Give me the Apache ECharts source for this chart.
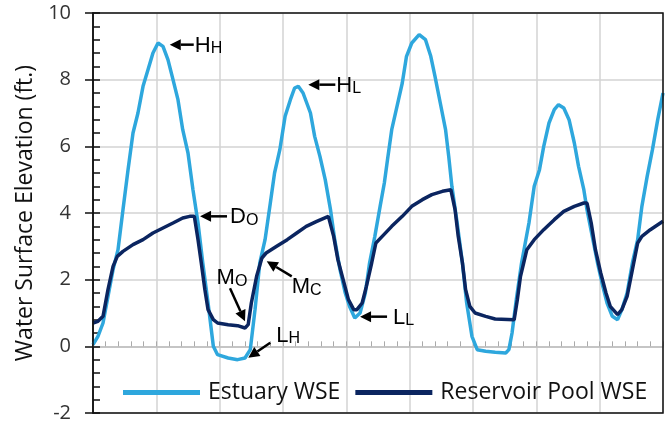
<!DOCTYPE html>
<html>
<head>
<meta charset="utf-8">
<script src="https://cdn.jsdelivr.net/npm/echarts@6/dist/echarts.min.js"></script>
<style>
html,body{margin:0;padding:0;background:#fff;}
#chart{width:668px;height:423px;}
</style>
</head>
<body>
<div id="chart"></div>
<script>
// ---- data (hours, ft) ----
const estuaryHours = [0.0,0.47,0.95,1.42,1.9,2.37,2.84,3.32,3.79,4.26,4.74,5.21,5.68,6.16,6.63,7.1,7.58,8.05,8.5,9.0,9.47,9.95,10.4,10.9,11.4,11.8,12.8,13.7,14.4,14.9,15.35,15.8,16.3,16.8,17.2,17.7,18.2,18.7,19.1,19.45,19.9,20.6,21.0,21.5,22.0,22.5,22.9,23.4,23.9,24.3,24.8,25.3,25.8,26.2,26.7,27.2,27.6,27.9,28.3,28.8,29.3,29.7,30.2,30.9,31.5,32.0,32.4,32.9,33.4,33.7,34.0,34.5,35.0,35.4,35.9,36.4,37.2,38.1,39.1,39.4,39.7,40.1,40.6,41.3,41.8,42.3,42.7,43.2,43.7,44.1,44.6,45.1,45.6,46.0,46.5,46.8,47.3,47.8,48.3,48.7,49.2,49.7,50.1,50.6,51.1,51.6,52.0,52.5,53.0,53.5,54.0];
const estuaryWSE = [0.05,0.3,0.7,1.5,2.3,2.9,4.1,5.3,6.4,7.0,7.8,8.3,8.8,9.1,9.0,8.6,8.0,7.4,6.5,5.8,4.7,3.7,2.5,1.3,0.0,-0.25,-0.35,-0.4,-0.35,-0.1,1.1,2.5,3.2,4.3,5.2,5.9,6.9,7.4,7.75,7.8,7.6,7.0,6.3,5.7,5.0,4.1,3.2,2.3,1.6,1.2,0.85,1.0,1.6,2.5,3.3,4.2,4.9,5.6,6.5,7.2,7.9,8.7,9.1,9.35,9.2,8.7,8.1,7.3,6.5,5.7,4.8,3.7,2.5,1.3,0.3,-0.1,-0.15,-0.18,-0.2,-0.1,0.4,1.4,2.5,3.7,4.8,5.3,6.0,6.7,7.1,7.25,7.15,6.8,6.1,5.4,4.7,4.1,3.3,2.5,1.8,1.3,0.9,0.8,1.1,1.6,2.5,3.2,4.2,5.1,5.9,6.8,7.6];
const reservoirHours = [0.0,0.47,0.95,1.42,1.9,2.3,2.84,3.79,4.74,5.68,6.63,7.58,8.5,9.16,9.6,9.95,10.26,10.6,10.9,11.4,11.8,12.8,13.7,14.4,14.7,15.0,15.5,16.0,16.4,17.4,18.4,19.3,20.2,21.2,22.3,22.8,23.2,23.7,24.2,24.7,25.0,25.5,25.9,26.4,26.8,27.4,28.3,29.3,30.2,31.2,32.1,33.1,33.9,34.3,34.6,35.0,35.3,35.7,36.2,37.2,38.1,39.9,40.2,40.5,40.8,41.1,41.8,42.7,43.7,44.6,45.6,46.5,46.8,47.2,47.6,48.1,48.6,49.0,49.7,50.1,50.6,51.1,51.6,52.0,52.8,54.0];
const reservoirWSE = [0.7,0.75,0.9,1.7,2.4,2.7,2.85,3.05,3.2,3.4,3.55,3.7,3.85,3.9,3.9,3.2,2.5,1.7,1.1,0.8,0.7,0.65,0.62,0.55,0.65,1.3,2.1,2.65,2.8,3.0,3.2,3.4,3.6,3.75,3.9,3.3,2.6,2.0,1.4,1.1,1.1,1.3,1.8,2.5,3.1,3.3,3.6,3.9,4.2,4.4,4.55,4.65,4.7,4.1,3.3,2.5,1.7,1.2,1.0,0.9,0.82,0.8,1.4,2.1,2.5,2.9,3.2,3.5,3.8,4.05,4.2,4.3,4.3,3.7,2.9,2.2,1.6,1.2,0.95,1.1,1.5,2.3,3.1,3.3,3.5,3.75];
const seriesNames = ['Estuary WSE','Reservoir Pool WSE'];
const yTicks = [-2,0,2,4,6,8,10];
const xRange = [0,54];
// annotation labels and the data point (hours, ft) each arrow points at
const annLabels = [['H','H'],['H','L'],['D','O'],['M','O'],['M','C'],['L','H'],['L','L']];
const annTipHours = [7.27,20.4,10.14,14.4,16.46,14.71,25.3];
const annTipWSE = [9.05,7.85,3.9,0.75,2.55,-0.34,0.89];

// ---- styles / layout ----
const C_EST = '#2ea7dd', C_RES = '#0b2560';
const FONT = '"Open Sans", sans-serif';
const annLayout = [ // tail offset, text offset, align (pixels, relative to arrow tip)
  {tail:[24,0], text:[25,0], align:'left'},
  {tail:[27,0], text:[28,0], align:'left'},
  {tail:[27,0], text:[30,0], align:'left'},
  {tail:[-15,-33], text:[-13,-44], align:'center'},
  {tail:[25,15], text:[25,25], align:'left'},
  {tail:[22,-15], text:[28,-23], align:'left'},
  {tail:[27,0], text:[33,0], align:'left'}
];

const zip = (a,b) => a.map((v,i)=>[v,b[i]]);
const chart = echarts.init(document.getElementById('chart'), null, {renderer:'canvas'});
const GRID = {left:93, right:5, top:13, bottom:10};
const yMin = yTicks[0], yMax = yTicks[yTicks.length-1];

chart.setOption({
  animation:false,
  grid:{...GRID, containLabel:false},
  legend:{
    data:seriesNames, left:123, top:381, padding:0, itemGap:15, itemWidth:77, itemHeight:5, icon:'rect',
    textStyle:{fontFamily:FONT, fontSize:23, color:'#111', padding:[0,0,0,3]}
  },
  xAxis:{
    type:'value', min:xRange[0], max:xRange[1], interval:6,
    axisLine:{onZero:true, lineStyle:{color:'#bdbdbd', width:1.5}},
    axisTick:{show:true, inside:true, length:5, lineStyle:{color:'#aaa'}},
    minorTick:{show:true, splitNumber:5, length:5, lineStyle:{color:'#aaa', width:1}},
    axisLabel:{show:false},
    splitLine:{show:true, lineStyle:{color:'#d3d3d3', width:1.5}}
  },
  yAxis:[{
    type:'value', min:yMin, max:yMax, interval:2, position:'left',
    name:'Water Surface Elevation (ft.)', nameLocation:'middle', nameGap:56,
    nameTextStyle:{fontFamily:FONT, fontSize:23, color:'#111'},
    axisLine:{show:true, onZero:false, lineStyle:{color:'#111', width:1.5}},
    axisTick:{show:true, inside:false, length:8, lineStyle:{color:'#111', width:1.5}},
    axisLabel:{fontFamily:FONT, fontSize:20, color:'#333', margin:22},
    splitLine:{show:true, lineStyle:{color:'#d3d3d3', width:1.5}}
  },{
    type:'value', min:yMin, max:yMax, interval:2, position:'right', offset:-570,
    axisLine:{show:false, onZero:false},
    axisTick:{show:true, inside:false, length:7, lineStyle:{color:'#111', width:1.5}},
    minorTick:{show:true, splitNumber:5, length:7, lineStyle:{color:'#111', width:1.5}},
    axisLabel:{show:false}, splitLine:{show:false}
  }],
  series:[
    {name:seriesNames[0], type:'line', data:zip(estuaryHours, estuaryWSE), showSymbol:false,
     lineStyle:{color:C_EST, width:3.5}, itemStyle:{color:C_EST}, z:2},
    {name:seriesNames[1], type:'line', data:zip(reservoirHours, reservoirWSE), showSymbol:false,
     lineStyle:{color:C_RES, width:3.5}, itemStyle:{color:C_RES}, z:3}
  ]
});

const g = [];
// plot frame from the axes' extents
const tl = chart.convertToPixel({gridIndex:0}, [xRange[0], yMax]);
const br = chart.convertToPixel({gridIndex:0}, [xRange[1], yMin]);
g.push({type:'rect', shape:{x:tl[0], y:tl[1], width:br[0]-tl[0], height:br[1]-tl[1]},
        style:{fill:'none', stroke:'#111', lineWidth:1.5}, z:50, silent:true});
// annotations: arrows pointing at data positions converted by the chart's own scales
annLabels.forEach((lab, i) => {
  const tip = chart.convertToPixel({gridIndex:0}, [annTipHours[i], annTipWSE[i]]);
  const L = annLayout[i];
  const tail = [tip[0]+L.tail[0], tip[1]+L.tail[1]];
  const dx = tip[0]-tail[0], dy = tip[1]-tail[1];
  const len = Math.hypot(dx,dy), ux = dx/len, uy = dy/len;
  const headLen = 11, headW = 5.5;
  const base = [tip[0]-ux*headLen, tip[1]-uy*headLen];
  g.push({type:'line', shape:{x1:tail[0], y1:tail[1], x2:base[0], y2:base[1]},
          style:{stroke:'#000', lineWidth:2.5}, z:100, silent:true});
  g.push({type:'polygon', shape:{points:[tip, [base[0]-uy*headW, base[1]+ux*headW], [base[0]+uy*headW, base[1]-ux*headW]]},
          style:{fill:'#000'}, z:100, silent:true});
  g.push({type:'text', x:tip[0]+L.text[0], y:tip[1]+L.text[1], z:100, silent:true,
          style:{text:'{b|'+lab[0]+'}{s|'+lab[1]+'}', align:L.align, verticalAlign:'middle',
                 rich:{b:{fontFamily:'"Liberation Sans", Arial, sans-serif', fontSize:22, color:'#000', lineHeight:24, verticalAlign:'bottom'},
                       s:{fontFamily:'"Liberation Sans", Arial, sans-serif', fontSize:16, color:'#000', lineHeight:24, verticalAlign:'bottom'}}}});
});
chart.setOption({graphic:g});
</script>
</body>
</html>
